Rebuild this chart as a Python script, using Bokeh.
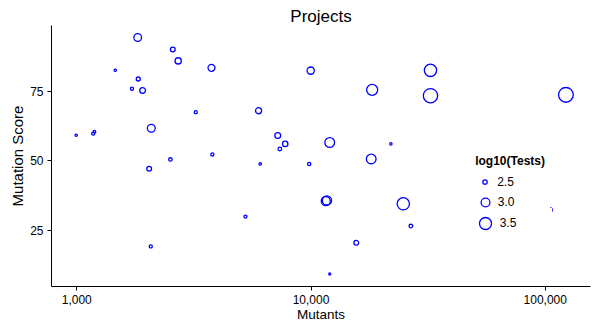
import numpy as np
from bokeh.plotting import figure
from bokeh.models import (ColumnDataSource, FixedTicker, Legend, LegendItem,
                          NumeralTickFormatter, Range1d)
from bokeh.embed import file_html
from bokeh.resources import INLINE

# --- data -----------------------------------------------------------------
mutants = [1820, 2570, 2710, 3760, 1460, 1830, 1720, 1910, 3220, 5970,
           994, 1175, 1190, 2080, 7210, 7360, 7760, 2510, 3790, 6070,
           2037, 2070, 5250, 9970, 18240, 32360, 32360, 122500, 12020, 21920,
           9820, 18070, 11560, 11700, 24770, 26680, 15600, 12020, 105000]
mutation_score = [94.3, 90.0, 85.9, 83.4, 82.5, 79.4, 75.9, 75.3, 67.5, 68.0,
                  59.2, 59.8, 60.5, 61.7, 59.1, 54.3, 56.1, 50.5, 52.3, 48.9,
                  47.2, 19.3, 30.0, 82.4, 75.5, 82.5, 73.4, 73.7, 56.6, 56.1,
                  48.9, 50.7, 35.6, 35.8, 34.6, 26.6, 20.6, 9.4, 32.4]
log10_tests = [2.83, 2.55, 2.68, 2.75, 2.42, 2.50, 2.45, 2.63, 2.45, 2.66,
               2.42, 2.45, 2.43, 2.85, 2.64, 2.48, 2.60, 2.47, 2.45, 2.42,
               2.55, 2.45, 2.45, 2.78, 3.31, 3.54, 3.95, 4.05, 3.10, 2.42,
               2.46, 3.10, 3.00, 3.02, 3.54, 2.48, 2.55, 2.41, 2.50]

legend_levels = [2.5, 3.0, 3.5]
legend_labels = ["2.5", "3.0", "3.5"]
x_ticks = [1000, 10000, 100000]
y_ticks = [25, 50, 75]

# marker area grows linearly with log10(Tests)
AREA_K = 130.0
T0 = 2.377


def marker_size(t):
    return np.sqrt(AREA_K * (np.asarray(t, dtype=float) - T0))


FONT = "Liberation Sans"
BLUE = "#0000FF"
LINE_W = 1.3

source = ColumnDataSource(dict(x=mutants, y=mutation_score, t=log10_tests,
                               size=marker_size(log10_tests)))

p = figure(width=592, height=324, x_axis_type="log",
           x_range=Range1d(780, 156000), y_range=Range1d(4.9, 98.6),
           output_backend="svg", toolbar_location=None,
           min_border_left=51, min_border_right=2,
           min_border_top=25, min_border_bottom=37,
           title="Projects")

pts = p.scatter("x", "y", size="size", source=source, marker="circle",
                fill_color=None, line_color=BLUE, line_width=LINE_W)

# title
p.title.align = "center"
p.title.text_font = FONT
p.title.text_font_size = "17px"
p.title.text_font_style = "normal"
p.title.text_color = "#000000"
p.title.standoff = 0

# axes
p.xaxis.ticker = FixedTicker(ticks=x_ticks, minor_ticks=[])
p.xaxis.formatter = NumeralTickFormatter(format="0,0")
p.yaxis.ticker = FixedTicker(ticks=y_ticks, minor_ticks=[])
p.xaxis.axis_label = "Mutants"
p.yaxis.axis_label = "Mutation Score"
for ax in (p.xaxis, p.yaxis):
    ax.axis_line_color = "#000000"
    ax.axis_line_width = 1
    ax.major_tick_line_color = "#000000"
    ax.major_tick_out = 4
    ax.major_tick_in = 0
    ax.minor_tick_out = 0
    ax.minor_tick_in = 0
    ax.major_label_text_font = FONT
    ax.major_label_text_font_size = "12px"
    ax.major_label_text_color = "#000000"
    ax.axis_label_text_font = FONT
    ax.axis_label_text_font_style = "normal"
    ax.axis_label_text_color = "#000000"
p.xaxis.axis_label_text_font_size = "13.5px"
p.yaxis.axis_label_text_font_size = "15px"
p.xaxis.major_label_standoff = 4
p.xaxis.axis_label_standoff = 0
p.yaxis.major_label_standoff = 4
p.yaxis.axis_label_standoff = 1

p.xgrid.visible = False
p.ygrid.visible = False
p.outline_line_color = None

# size legend: one small legend per level so each symbol keeps its own size
# (a legend symbol is drawn at 0.4 x the smaller side of its glyph box)
CX = 433.7               # symbol centre, px from frame left
CY = [104.3, 83.7, 63.0]  # symbol centres, px from frame bottom
LABEL_X = 446.3          # label left edge, px from frame left
RIGHT = 498.0            # legend box right edge, px from frame left
for i, (lvl, lab) in enumerate(zip(legend_levels, legend_labels)):
    s = float(marker_size(lvl))
    gh = int(round(s / 0.4))
    if i == 0:
        gh += 1
    gw = 19 if i == 0 else gh
    row_h = max(gh, 14)
    left = CX - gw / 2
    standoff = int(round(LABEL_X - left - gw))
    leg = Legend(items=[LegendItem(label=lab, renderers=[pts])],
                 location=(left, CY[i] - row_h / 2),
                 glyph_width=gw, glyph_height=gh,
                 label_standoff=standoff,
                 label_width=int(round(RIGHT - LABEL_X)), label_height=14,
                 label_text_font=FONT, label_text_font_size="12px",
                 label_text_color="#000000",
                 padding=0, margin=0, spacing=0,
                 border_line_color=None,
                 background_fill_color="#FFFFFF", background_fill_alpha=1.0)
    if i == 0:
        leg.title = "log10(Tests)"
        leg.title_text_font = FONT
        leg.title_text_font_size = "12px"
        leg.title_text_font_style = "bold"
        leg.title_text_color = "#000000"
        leg.title_standoff = 7
    p.add_layout(leg, "center")

with open("out.html", "w") as f:
    f.write(file_html(p, INLINE))
